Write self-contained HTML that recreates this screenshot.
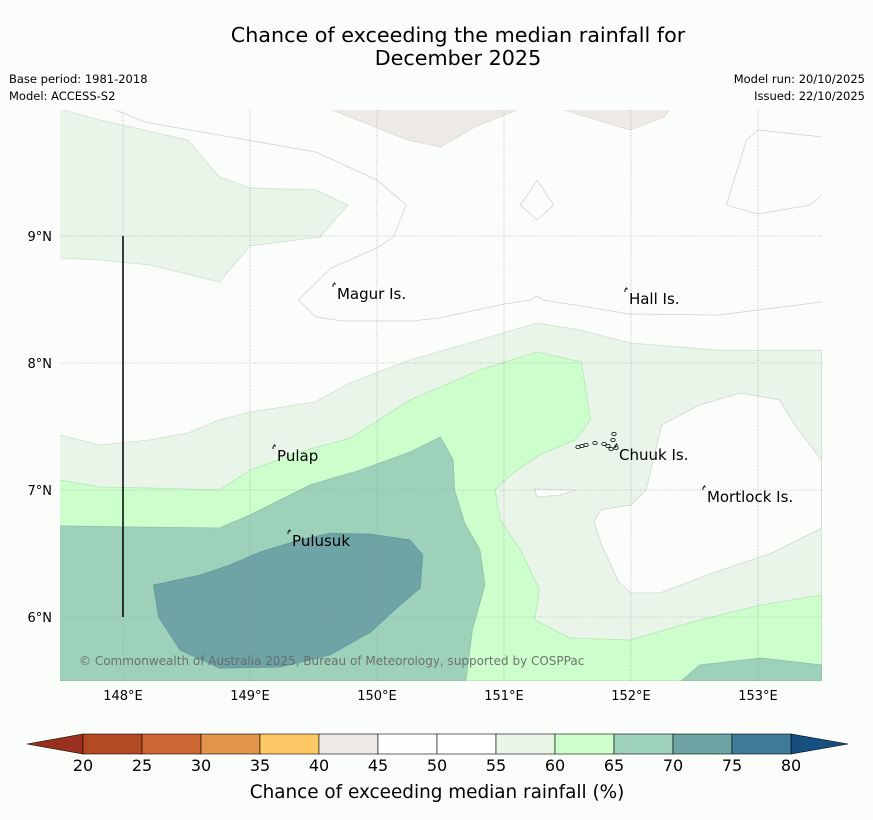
<!DOCTYPE html>
<html><head><meta charset="utf-8">
<style>
body{margin:0;background:#fbfdfb;font-family:"DejaVu Sans","Liberation Sans",sans-serif;}
svg text{font-family:"DejaVu Sans","Liberation Sans",sans-serif;}
</style></head>
<body>
<svg id="chart" width="873" height="816" viewBox="0 0 873 816" xmlns="http://www.w3.org/2000/svg">
<rect width="873" height="816" fill="#fbfdfb"/>
<text x="458" y="42" font-size="20.7" text-anchor="middle" fill="#000">Chance of exceeding the median rainfall for</text>
<text x="458" y="65" font-size="20.7" text-anchor="middle" fill="#000">December 2025</text>
<text x="9" y="83" font-size="11.5">Base period: 1981-2018</text>
<text x="9" y="100" font-size="11.5">Model: ACCESS-S2</text>
<text x="865" y="83" font-size="11.5" text-anchor="end">Model run: 20/10/2025</text>
<text x="865" y="100" font-size="11.5" text-anchor="end">Issued: 22/10/2025</text>
<defs><clipPath id="mapclip"><rect x="60" y="110" width="762" height="571"/></clipPath></defs>
<g id="map" clip-path="url(#mapclip)"></g>
<g id="overlay"></g>
<g id="cbar"></g>
</svg>
<script>
// contour data: [lon, lat] vertices
const c55a=[[147.5,10],[147.82,9.913],[148.51,9.756],[148.61,9.638],[148.76,9.465],[149,9.378],[149.52,9.362],[149.77,9.244],[149.55,8.992],[149,8.921],[148.76,8.638],[148.21,8.772],[147.82,8.811],[147.5,8.827]];
const c55b=[[147.5,7.433],[147.82,7.354],[148.21,7.394],[148.51,7.449],[148.76,7.551],[149,7.614],[149.51,7.693],[149.79,7.843],[150.26,8.024],[150.81,8.181],[151.26,8.315],[151.6,8.26],[152,8.157],[152.7,8.1],[153.5,8.1],[153.5,5.5],[147.5,5.5]];
const c50hole=[[153.5,7.236],[153.29,7.512],[153.17,7.709],[152.86,7.764],[152.54,7.669],[152.24,7.512],[152.12,7.0],[152,6.882],[151.76,6.843],[151.71,6.75],[151.76,6.59],[151.9,6.28],[152,6.19],[152.23,6.19],[152.65,6.35],[153.1,6.5],[153.5,6.7]];
const c50sliver=[[151.24,7.008],[151.56,7.0],[151.44,6.961],[151.26,6.945]];
const c60=[[147.5,7.079],[147.82,7.024],[148.21,7.016],[148.76,7.0],[149,7.157],[149.39,7.299],[149.79,7.409],[150.26,7.709],[150.81,7.945],[151.26,8.087],[151.61,8.008],[151.68,7.551],[151.56,7.394],[151.28,7.276],[151.05,7.118],[150.93,7.0],[150.97,6.764],[151.13,6.528],[151.28,6.213],[151.24,5.976],[151.52,5.835],[151.99,5.819],[152.54,5.976],[153.02,6.094],[153.5,6.173],[153.5,5.5],[147.5,5.5]];
const c65a=[[147.5,6.717],[148.06,6.709],[148.76,6.701],[149,6.803],[149.47,7.039],[149.87,7.157],[150.26,7.299],[150.5,7.417],[150.6,7.236],[150.61,7.0],[150.69,6.74],[150.81,6.528],[150.85,6.252],[150.75,5.898],[150.7,5.5],[147.5,5.5]];
const c65b=[[152.4,5.5],[152.54,5.622],[153.02,5.677],[153.5,5.622],[153.5,5.5]];
const c70=[[148.24,6.252],[148.61,6.331],[148.84,6.409],[149.08,6.512],[149.39,6.606],[149.63,6.661],[149.95,6.653],[150.26,6.606],[150.36,6.488],[150.34,6.228],[150.18,6.094],[149.95,5.882],[149.63,5.701],[149.24,5.606],[148.76,5.598],[148.45,5.74],[148.28,6.0]];
const c40a=[[149.63,10],[150.24,9.756],[150.5,9.701],[150.77,9.858],[151.12,10]];
const c40b=[[151.45,10],[151.99,9.835],[152.26,9.937],[152.31,10]];
const line50a=[[147.8,10.05],[148.17,9.898],[149.52,9.661],[150,9.441],[150.23,9.244],[150.13,8.992],[150,8.906],[149.64,8.748],[149.38,8.496],[149.52,8.362],[149.73,8.331],[150.27,8.331],[150.49,8.354],[151.01,8.465],[151.21,8.496],[151.26,8.528],[151.31,8.496],[151.99,8.386],[152.69,8.378],[153.5,8.48]];
const line50b=[[151.26,9.441],[151.39,9.244],[151.26,9.126],[151.13,9.244],[151.26,9.441]];
const line50c=[[153.5,9.78],[153,9.835],[152.91,9.756],[152.75,9.244],[153,9.173],[153.41,9.244],[153.5,9.323]];
const lonTicks=[148,149,150,151,152,153];
const latTicks=[6,7,8,9];
const places=["Magur Is.","Hall Is.","Pulap","Pulusuk","Chuuk Is.","Mortlock Is."];
const placeLon=[149.685,151.984,149.213,149.331,151.906,152.598];
const placeLat=[8.551,8.512,7.276,6.606,7.283,6.953];
const cbLevels=[20,25,30,35,40,45,50,55,60,65,70,75,80];
const cbColors=["#b34a24","#cc6633","#e0954a","#fdc965","#ede9e4","#fdfffd","#ffffff","#e9f5e9","#ccffcc","#9dd1b9","#6ea4a6","#3f7a99"];

const NS="http://www.w3.org/2000/svg";
function X(lon){return 123+(lon-148)*127;}
function Y(lat){return 363-(lat-8)*127;}
function pts(a){return a.map(p=>X(p[0]).toFixed(1)+","+Y(p[1]).toFixed(1)).join(" ");}
function mk(tag,attrs,parent){const e=document.createElementNS(NS,tag);for(const k in attrs)e.setAttribute(k,attrs[k]);parent.appendChild(e);return e;}
const map=document.getElementById("map"), ov=document.getElementById("overlay"), cb=document.getElementById("cbar");

function poly(a,fill,stroke,name){const e=mk("polygon",{points:pts(a),fill:fill,stroke:stroke,"stroke-width":"0.8"},map);

return e;}
function line(a,name){const e=mk("polyline",{points:pts(a),fill:"none",stroke:"#d0d4d0","stroke-width":"0.8"},map);

}
mk("rect",{x:60,y:110,width:762,height:571,fill:"#fbfdfb"},map);
poly(c55a,"#e9f5e9","#cfe0cf","contour-55-60-north");
poly(c55b,"#e9f5e9","#cfe0cf","contour-55-60-south");
poly(c50hole,"#fbfdfb","#cfd8cf","contour-50-55-mortlock");
poly(c50sliver,"#fbfdfb","#cfd8cf","contour-50-55-sliver");
poly(c60,"#ccffcc","#b5e5b5","contour-60-65");
poly(c65a,"#9dd1b9","#8cc0a8","contour-65-70");
poly(c65b,"#9dd1b9","#8cc0a8","contour-65-70-east");
poly(c70,"#6ea4a6","#6298a0","contour-70-75");
poly(c40a,"#ede9e4","#dcd8d3","contour-40-45-west");
poly(c40b,"#ede9e4","#dcd8d3","contour-40-45-east");
line(line50a,"contour-line-50");
line(line50b,"contour-line-50-diamond");
line(line50c,"contour-line-50-east");

// gridlines
lonTicks.forEach(l=>{const g=mk("line",{x1:X(l),x2:X(l),y1:110,y2:681,stroke:"#999","stroke-width":"0.6","stroke-dasharray":"1,1.5"},ov);


const t=mk("text",{x:X(l),y:700,"font-size":"13","text-anchor":"middle"},ov);t.textContent=l+"°E";

});
latTicks.forEach(l=>{const g=mk("line",{x1:60,x2:822,y1:Y(l),y2:Y(l),stroke:"#999","stroke-width":"0.6","stroke-dasharray":"1,1.5"},ov);


const t=mk("text",{x:52,y:Y(l)+5,"font-size":"13","text-anchor":"end"},ov);t.textContent=l+"°N";

});
const bl=mk("line",{x1:X(148),x2:X(148),y1:Y(9),y2:Y(6),stroke:"#000","stroke-width":"1.5"},ov);



// places
places.forEach((p,i)=>{const x=X(placeLon[i]),y=Y(placeLat[i]);
const m=mk("path",{d:`M${x-4} ${y-8} l1.5 -2 l1 1.5 M${x-4} ${y-8} l0 2`,stroke:"#000","stroke-width":"1",fill:"none"},ov);


const t=mk("text",{x:x,y:y+6,"font-size":"15"},ov);t.textContent=p;

});
// chuuk cluster
const chuuk=[[578,447],[582,446],[586,445],[595,443],[604,444],[608,446],[613,440],[614,434],[611,449],[616,448]];
chuuk.forEach(c=>{const e=mk("ellipse",{cx:c[0],cy:c[1],rx:2.2,ry:1.6,fill:"none",stroke:"#000","stroke-width":"0.8"},ov);

});
const cp=mk("text",{x:79,y:665,"font-size":"12",fill:"#666","fill-opacity":"0.9"},ov);cp.textContent="© Commonwealth of Australia 2025, Bureau of Meteorology, supported by COSPPac";



// colorbar
const cx0=83,cw=59,cy=734,ch=20;
function CX(v){return cx0+(v-20)/5*cw;}
const lt=mk("polygon",{points:`27,744 ${cx0},${cy} ${cx0},${cy+ch}`,fill:"#9a3120",stroke:"#000","stroke-width":"0.6"},cb);


const rt=mk("polygon",{points:`848,744 ${CX(80)},${cy} ${CX(80)},${cy+ch}`,fill:"#164e80",stroke:"#000","stroke-width":"0.6"},cb);


cbColors.forEach((c,i)=>{const r=mk("rect",{x:CX(cbLevels[i]),y:cy,width:CX(cbLevels[i+1])-CX(cbLevels[i]),height:ch,fill:c,stroke:"#000","stroke-width":"0.6"},cb);

});
cbLevels.forEach(v=>{const t=mk("text",{x:CX(v),y:771,"font-size":"16","text-anchor":"middle"},cb);t.textContent=v;

});
const ct=mk("text",{x:437,y:798,"font-size":"18.4","text-anchor":"middle"},cb);ct.textContent="Chance of exceeding median rainfall (%)";


</script>
</body></html>
